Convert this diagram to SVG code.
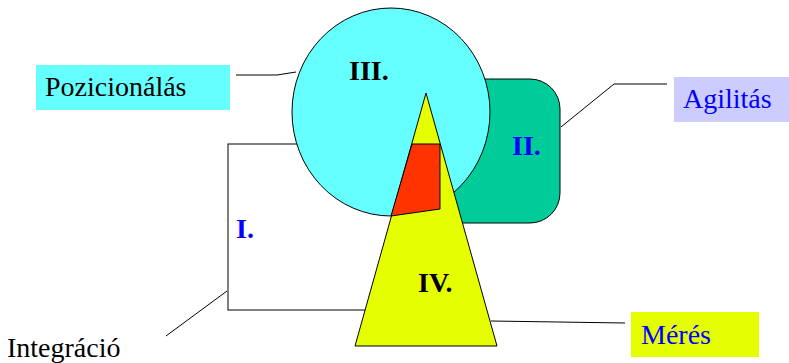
<svg xmlns="http://www.w3.org/2000/svg" width="789" height="363" viewBox="0 0 789 363">
<style>
text{font-family:"Liberation Serif","Times New Roman",serif}
.lbl{font-size:28px}
.num{font-size:28px;font-weight:bold}
.sh{stroke:#000;stroke-width:1}
.con{fill:none;stroke:#000;stroke-width:1}
</style>
<rect width="789" height="363" fill="#fff"/>
<g id="connectors">
<polyline class="con" points="236,75 277,75 296,72"/>
<polyline class="con" points="561,127 614,84 667,84"/>
<polyline class="con" points="491,321 625,323"/>
<polyline class="con" points="166,336 227,291"/>
</g>
<g id="node-II">
<rect class="sh" x="415" y="79" width="145" height="144" rx="30" fill="#00CC99"/>
<text class="num" x="512" y="155" fill="#0000FF">II.</text>
</g>
<g id="node-I">
<rect class="sh" x="228" y="144" width="200" height="166" fill="#fff" stroke="#333"/>
<text class="num" x="236" y="238" fill="#0000FF">I.</text>
</g>
<g id="node-III">
<ellipse class="sh" cx="391" cy="112" rx="99" ry="104" fill="#66FFFF"/>
<text class="num" x="349" y="80" fill="#000">III.</text>
</g>
<g id="node-IV">
<polygon class="sh" points="426,93 355,346 497,346" fill="#E5FF00"/>
<polygon class="sh" points="412,144 440,144 440,209 391,216" fill="#FF3300"/>
<text class="num" x="418" y="292" fill="#000">IV.</text>
</g>
<g id="label-pozicionalas">
<rect x="36" y="65" width="194" height="45" fill="#66FFFF"/>
<text class="lbl" x="45" y="96" fill="#000">Pozicionálás</text>
</g>
<g id="label-agilitas">
<rect x="674" y="77" width="115" height="45" fill="#CCCCFF"/>
<text class="lbl" x="683" y="108" fill="#0000FF">Agilitás</text>
</g>
<g id="label-meres">
<rect x="631" y="312" width="128" height="45" fill="#E5FF00"/>
<text class="lbl" x="641" y="344" fill="#0000FF">Mérés</text>
</g>
<g id="label-integracio">
<text class="lbl" x="7" y="357" fill="#000">Integráció</text>
</g>
</svg>
